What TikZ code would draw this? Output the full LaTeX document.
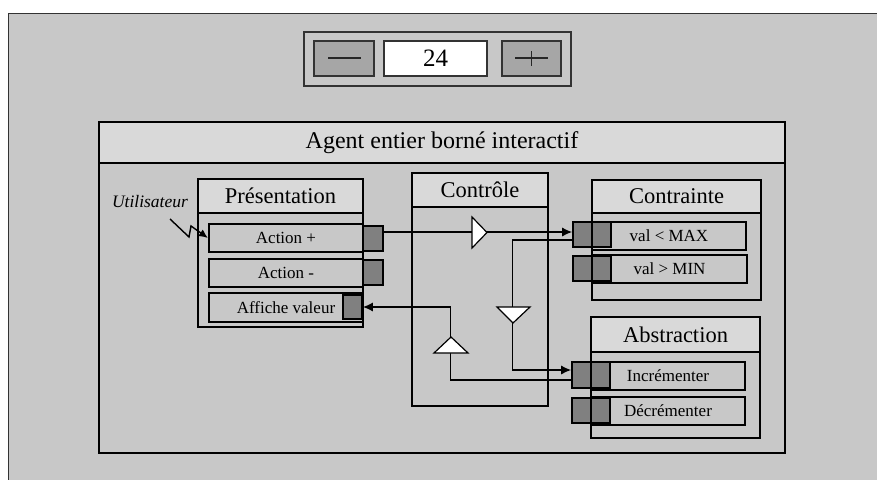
\documentclass[tikz,border=0pt]{standalone}
\usepackage{fontspec}
\setmainfont{Liberation Serif}
\usetikzlibrary{arrows.meta}
\definecolor{bggray}{RGB}{200,200,200}
\definecolor{hdgray}{RGB}{217,217,217}
\definecolor{btngray}{RGB}{166,166,166}
\definecolor{prtgray}{RGB}{128,128,128}

\begin{document}
\begin{tikzpicture}[x=1pt,y=-1pt,
  frame/.style={draw=black, line width=2.1pt, fill=bggray, inner sep=0pt},
  hdr/.style={frame, fill=hdgray, font=\fontsize{22.5}{22}\selectfont},
  item/.style={frame, font=\fontsize{17}{17}\selectfont},
  port/.style={draw=black, line width=1.6pt, fill=prtgray, inner sep=0pt, minimum width=19pt, minimum height=25pt},
  btn/.style={draw=black!80, line width=1.4pt, fill=btngray, inner sep=0pt, minimum height=35pt},
  flow/.style={line width=1.4pt, -{Latex[length=10pt,width=9pt]}},
  gate/.style={draw=black, line width=1.2pt, fill=white, line join=miter}]
     \useasboundingbox (0,0) rectangle (877,479);
     \fill [white] (0,0) rectangle (877,479);
     \draw [fill=bggray, draw=black!80, line width=1.2pt] (8.5,13.5) rectangle (890,490);

     % counter widget
     \node [draw=black!80, line width=1.4pt, fill=bggray, minimum width=267pt, minimum height=54pt] (widget) at (437.5,59) {};
     \node [btn, minimum width=60pt] (minus) at (344,58.5) {};
     \node [draw=black!80, line width=1.4pt, fill=white, minimum width=103pt, minimum height=35pt, font=\fontsize{25}{25}\selectfont] (value) at (435.5,58.5) {24};
     \node [btn, minimum width=59pt] (plus) at (531.5,58.5) {};
     \draw [black!85, line width=1.2pt] (328,58) -- (361,58);
     \draw [black!85, line width=1.2pt] (515,58) -- (548,58) (531.5,51) -- (531.5,66);

     % agent frame
     \node [frame, minimum width=686pt, minimum height=331pt] (agent) at (442,287.5) {};
     \node [hdr, minimum width=686pt, minimum height=41pt, font=\fontsize{24}{24}\selectfont] (agentHd) at (442,142.5) {Agent entier borné interactif};

     % presentation
     \node [frame, minimum width=165pt, minimum height=148pt] (pres) at (280.5,253) {};
     \node [hdr, minimum width=165pt, minimum height=34pt] (presHd) at (280.5,196) {Présentation};
     \node [item, minimum width=154pt, minimum height=28pt] (aplus) at (286,238) {Action +};
     \node [item, minimum width=154pt, minimum height=28pt] (aminus) at (286,273) {Action -};
     \node [item, minimum width=154pt, minimum height=29pt] (affiche) at (286,307.5) {Affiche valeur};
     \node [port, minimum width=20pt] (pAplus) at (373,238.5) {};
     \node [port, minimum width=20pt] (pAminus) at (373,272.5) {};
     \node [port, minimum height=24pt] (pAff) at (352.5,307) {};

     % controle
     \node [frame, minimum width=136pt, minimum height=233pt] (ctrl) at (480,289.5) {};
     \node [hdr, minimum width=136pt, minimum height=34pt] (ctrlHd) at (480,190) {Contrôle};

     % contrainte
     \node [frame, minimum width=169pt, minimum height=120pt] (contr) at (676.5,240) {};
     \node [hdr, minimum width=169pt, minimum height=33pt] (contrHd) at (676.5,196.5) {Contrainte};
     \node [item, minimum width=154pt, minimum height=28pt] (cMax) at (669,236) {val < MAX};
     \node [item, minimum width=155pt, minimum height=28pt] (cMin) at (669.5,269) {val > MIN};
     \node [port] (pMaxo) at (582.5,234.5) {};
     \node [port] (pMaxi) at (601.5,234.5) {};
     \node [port] (pMino) at (582.5,268.5) {};
     \node [port] (pMini) at (601.5,268.5) {};

     % abstraction
     \node [frame, minimum width=169pt, minimum height=121pt] (abstr) at (675.5,377.5) {};
     \node [hdr, minimum width=169pt, minimum height=35pt] (abstrHd) at (675.5,334.5) {Abstraction};
     \node [item, minimum width=154pt, minimum height=28pt] (aInc) at (668,376) {Incrémenter};
     \node [item, minimum width=154pt, minimum height=28pt] (aDec) at (668,411) {Décrémenter};
     \node [port, minimum height=26pt] (pInco) at (581.5,375) {};
     \node [port, minimum height=26pt] (pInci) at (600.5,375) {};
     \node [port] (pDeco) at (581.5,410.5) {};
     \node [port] (pDeci) at (600.5,410.5) {};

     % flows
     \draw [flow] ([yshift=6.5pt]pAplus.east) -- ([yshift=6.5pt]pAplus.east -| pMaxo.west);
     \draw [flow] ([yshift=-5.5pt]pMaxo.west) -- ++(-60,0) |- ([yshift=5pt]pInco.west);
     \draw [flow] ([yshift=-5pt]pInco.west) -- ++(-121,0) |- (pAff.east);
     \draw [gate] (472,217) -- (487,232.5) -- (472,248) -- cycle;
     \draw [gate] (497,307) -- (530,307) -- (513,323) -- cycle;
     \draw [gate] (434,353) -- (468,353) -- (451,337) -- cycle;

     % user
     \node [font=\fontsize{17.5}{18}\selectfont\itshape] (user) at (150,202) {Utilisateur};
     \coordinate (bolt) at (170,219);
     \draw [line width=1.4pt, -{Latex[length=9pt,width=8pt]}] (bolt) -- (189,237) -- (191,226) -- (aplus.west);
\end{tikzpicture}
\end{document}
